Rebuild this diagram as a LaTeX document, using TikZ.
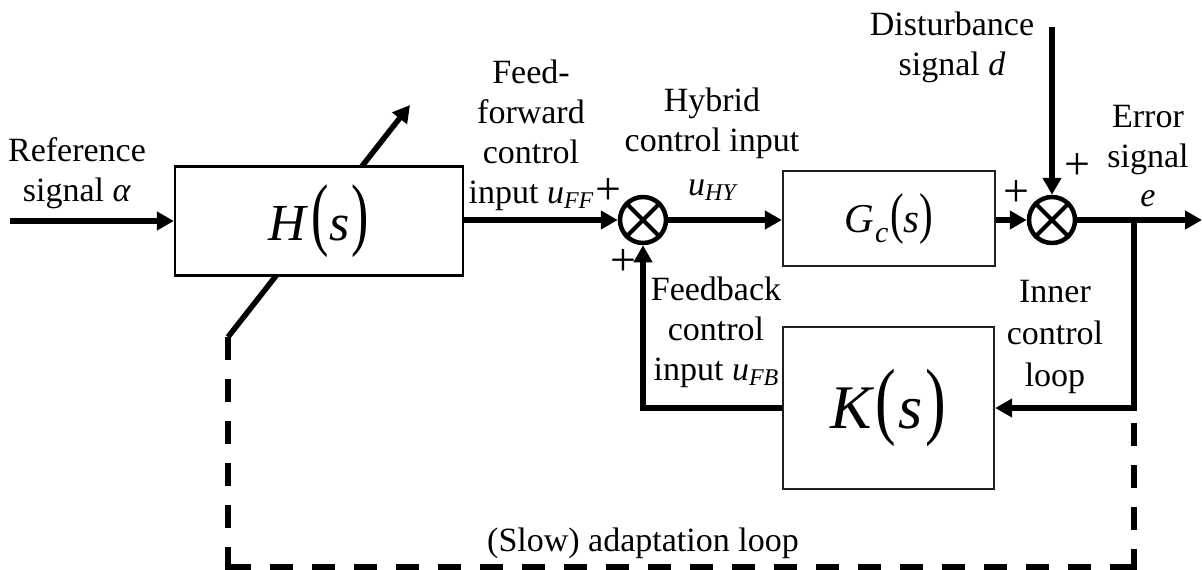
\documentclass[tikz,border=0pt]{standalone}
\usepackage{fontspec}
\setmainfont{Liberation Serif}
\usetikzlibrary{arrows.meta}
\newcommand\lsub[1]{\raisebox{-5pt}{\fontsize{24}{24}\selectfont\itshape #1}}
\newcommand\tallp[2]{\scalebox{1}[#1]{\upshape #2}}
\begin{document}
\begin{tikzpicture}[x=1pt,y=-1pt,
  lbl/.style={font=\fontsize{34}{40}\selectfont, align=center, inner sep=0pt},
  pm/.style={font=\fontsize{46}{46}\selectfont, inner sep=0pt},
  sig/.style={line width=5.5pt, -{Triangle[length=17pt,width=18pt]}},
  blk/.style={draw=black!88, line width=2.3pt, fill=white, inner sep=0pt},
  sumj/.style={circle, draw, line width=4.5pt, minimum size=46pt, inner sep=0pt, fill=white},
  cross/.style={line width=4pt},
  adapt/.style={line width=5.5pt, dash pattern=on 23pt off 19pt},
]
\useasboundingbox (0,0) rectangle (1202,570);
\fill[white] (0,0) rectangle (1202,570);

% coordinates
\coordinate (dl) at (228,337);
\coordinate (du) at (410,105);
\coordinate (in) at (10,221);
\coordinate (out) at (1202,220);
\coordinate (br) at (1134,220);
\coordinate (dtop) at (1052,27);
\coordinate (bl) at (228,567);
\coordinate (blx) at (228,570);
\coordinate (brc) at (1134,567);
\coordinate (brx) at (1134,570);
\coordinate (rt) at (1134,423);

% adaptation arrow through H (behind the box)
\draw[sig] (dl) -- (du);

% blocks
\node[blk, draw=black, minimum width=288pt, minimum height=109pt] (H) at (319,221)
  {\fontsize{52}{52}\selectfont\itshape H\kern5pt\tallp{1.55}{(}\kern1pt s\kern2pt\tallp{1.55}{)}};
\node[blk, minimum width=212pt, minimum height=95pt] (Gc) at (889,218.5)
  {\fontsize{41}{41}\selectfont\itshape G\kern1pt\raisebox{-10pt}{\fontsize{30}{30}\selectfont c}\kern2pt\tallp{1.37}{(}s\tallp{1.37}{)}};
\node[blk, minimum width=211pt, minimum height=162pt] (K) at (888.5,408)
  {\fontsize{62}{62}\selectfont\itshape K\kern4pt\tallp{1.38}{(}\kern2pt s\kern3pt\tallp{1.38}{)}};

% summing junctions
\node[sumj] (s1) at (643,220) {};
\draw[cross] (s1.north west) -- (s1.south east) (s1.north east) -- (s1.south west);
\node[sumj] (s2) at (1052,220) {};
\draw[cross] (s2.north west) -- (s2.south east) (s2.north east) -- (s2.south west);

% signal connectors
\draw[sig] (in) -- (in -| H.west);
\draw[sig] (H.east |- s1) -- (s1);
\draw[sig] (s1) -- (s1 -| Gc.west);
\draw[sig] (Gc.east |- s2) -- (s2);
\draw[sig] (dtop) -- (s2);
\draw[sig] (s2) -- (out);
\draw[sig] (br) |- (K.east);
\draw[sig] (K.west) -| (s1.south);

% slow adaptation loop
\draw[adapt] (dl) -- (blx);
\draw[adapt] (bl) -- (brc);
\draw[adapt] (rt) -- (brx);

% labels
\node[lbl] (refl) at (77,173.5) {Reference\\signal \textit{α}};
\node[lbl] (ffl) at (531,135) {Feed-\\forward\\control\\input \textit{u}\lsub{FF}};
\node[pm] (p1) at (608,192) {+};
\node[lbl] (hyl) at (712,123) {Hybrid\\control input};
\node[lbl, anchor=base] (uhy) at (712,195) {\textit{u}\lsub{HY}};
\node[lbl] (fbl) at (716,332) {Feedback\\control\\input \textit{u}\lsub{FB}};
\node[pm] (p2) at (623,263) {+};
\node[lbl] (dsl) at (952,47) {Disturbance\\signal \textit{d}};
\node[pm] (p3) at (1016,194) {+};
\node[pm] (p4) at (1077,167) {+};
\node[lbl] (erl) at (1148,140) {Error\\signal};
\node[lbl, anchor=base] (el) at (1148,206) {\textit{e}};
\node[lbl] (inl) at (1055,336.5) {Inner\\[2pt]control\\[2pt]loop};
\node[lbl, anchor=base] (adl) at (643,551) {(Slow) adaptation loop};
\node[font=\fontsize{14}{14}\selectfont, inner sep=0pt] (mn) at (1106,224) {-};
\end{tikzpicture}
\end{document}
